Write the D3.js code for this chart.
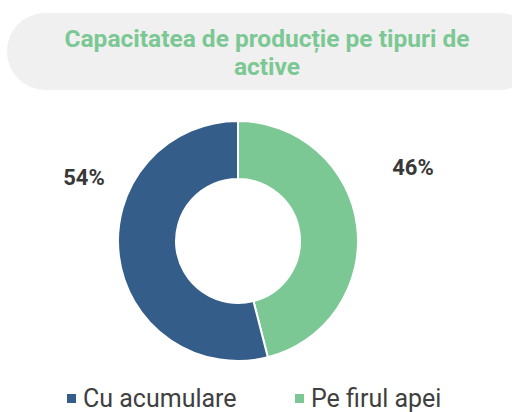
<!DOCTYPE html>
<html>
<head>
<meta charset="utf-8">
<script src="https://cdn.jsdelivr.net/npm/d3@7"></script>
<style>
  body { margin: 0; background: #fff; }
  svg { font-family: Roboto, "Noto Sans", sans-serif; }
</style>
</head>
<body>
<svg width="512" height="412"></svg>
<script>
var svg = d3.select("svg");

// data
var categories = ["Pe firul apei", "Cu acumulare"];
var values = [46, 54];
var legendOrder = ["Cu acumulare", "Pe firul apei"];
var titleLines = ["Capacitatea de producție pe tipuri de", "active"];

var color = d3.scaleOrdinal()
    .domain(categories)
    .range(["#7cc894", "#345d89"]);

// title pill
svg.append("rect")
    .attr("x", 7).attr("y", 13)
    .attr("width", 530).attr("height", 77)
    .attr("rx", 38)
    .attr("fill", "#f0f0f0");

svg.append("g").selectAll("text")
    .data(titleLines)
  .enter().append("text")
    .attr("x", 267)
    .attr("y", function(d, i) { return 47 + i * 28; })
    .attr("text-anchor", "middle")
    .attr("font-size", 24.5)
    .attr("font-weight", "bold")
    .attr("fill", "#7cc894")
    .text(function(d) { return d; });

// donut
var cx = 238, cy = 241, outerR = 120, innerR = 62;

var pie = d3.pie().sort(null).value(function(d) { return d.value; });
var arc = d3.arc().innerRadius(innerR).outerRadius(outerR);

var slices = pie(categories.map(function(c, i) { return { name: c, value: values[i] }; }));

var g = svg.append("g").attr("transform", "translate(" + cx + "," + cy + ")");

g.selectAll("path")
    .data(slices)
  .enter().append("path")
    .attr("d", arc)
    .attr("fill", function(d) { return color(d.data.name); })
    .attr("stroke", "#fff")
    .attr("stroke-width", 2);

// percentage labels (outside)
var labelPos = { "Pe firul apei": [413, 175], "Cu acumulare": [84, 185] };
svg.append("g").selectAll("text")
    .data(slices)
  .enter().append("text")
    .attr("x", function(d) { return labelPos[d.data.name][0]; })
    .attr("y", function(d) { return labelPos[d.data.name][1]; })
    .attr("text-anchor", "middle")
    .attr("font-size", 22)
    .attr("font-weight", "bold")
    .attr("fill", "#383838")
    .text(function(d) { return d.data.value + "%"; });

// legend
var legendX = [67, 295];
var legend = svg.append("g").selectAll("g")
    .data(legendOrder)
  .enter().append("g")
    .attr("transform", function(d, i) { return "translate(" + legendX[i] + ",0)"; });

legend.append("rect")
    .attr("x", 0).attr("y", 394)
    .attr("width", 9).attr("height", 9)
    .attr("fill", function(d) { return color(d); });

legend.append("text")
    .attr("x", 16).attr("y", 406.5)
    .attr("font-size", 25)
    .attr("fill", "#404040")
    .text(function(d) { return d; });
</script>
</body>
</html>
